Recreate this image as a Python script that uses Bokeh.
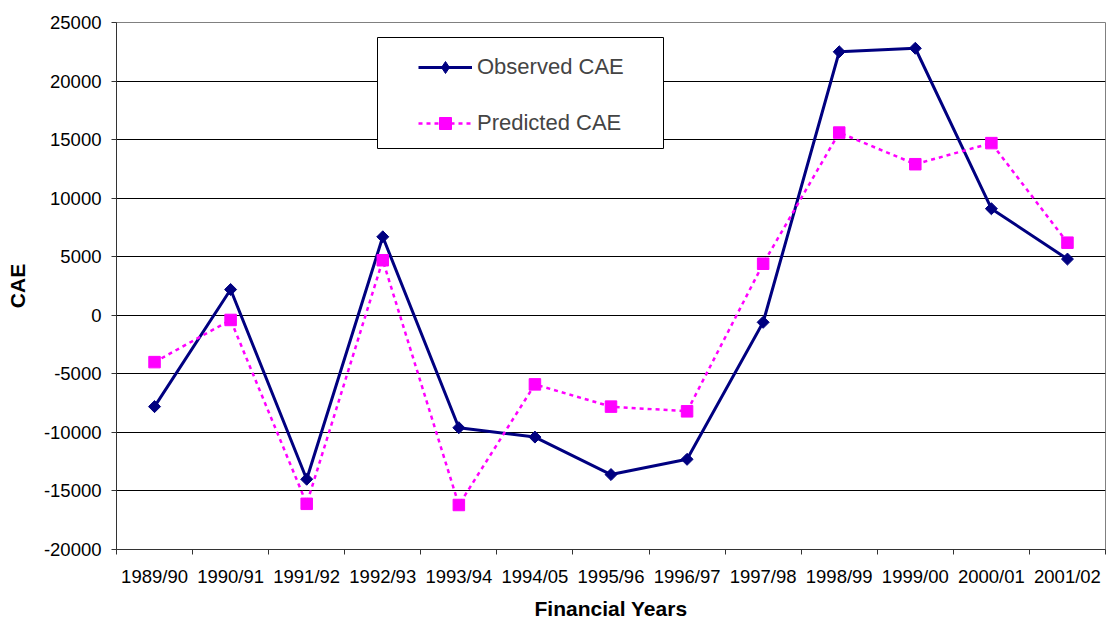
import math
from bokeh.plotting import figure
from bokeh.models import FixedTicker, Range1d, Legend, LegendItem, BoxAnnotation
from bokeh.embed import file_html
from bokeh.resources import INLINE

years = ["1989/90", "1990/91", "1991/92", "1992/93", "1993/94", "1994/05", "1995/96",
         "1996/97", "1997/98", "1998/99", "1999/00", "2000/01", "2001/02"]
observed = [-7800, 2200, -14000, 6700, -9600, -10400, -13600, -12300, -600, 22500, 22800, 9100, 4800]
predicted = [-4000, -400, -16100, 4700, -16200, -5900, -7800, -8200, 4400, 15600, 12900, 14700, 6200]
y_ticks = [-20000, -15000, -10000, -5000, 0, 5000, 10000, 15000, 20000, 25000]

n = len(years)
x = [i + 0.5 for i in range(n)]

FONT = "Liberation Sans"
W, H = 1106, 622
BL, BR, BT, BB = 116, 1, 22, 72

p = figure(width=W, height=H, output_backend="svg", toolbar_location=None,
           x_range=Range1d(0, n), y_range=Range1d(y_ticks[0], y_ticks[-1]),
           min_border_left=BL, min_border_right=BR, min_border_top=BT, min_border_bottom=BB,
           background_fill_color="white", border_fill_color="white")

p.outline_line_color = "#808080"
p.outline_line_width = 1

# x axis: labels at category centres, ticks at boundaries
xa = p.xaxis[0]
xa.ticker = FixedTicker(ticks=x, minor_ticks=list(range(n + 1)))
xa.major_label_overrides = {v: lab for v, lab in zip(x, years)}
xa.major_tick_line_color = None
xa.major_tick_out = 5
xa.major_tick_in = 0
xa.minor_tick_line_color = "#333333"
xa.minor_tick_out = 5
xa.minor_tick_in = 0
xa.axis_line_color = "#333333"
xa.major_label_text_font = FONT
xa.major_label_text_font_size = "18.5px"
xa.major_label_text_color = "black"
xa.major_label_standoff = 11
xa.axis_label = "Financial Years"
xa.axis_label_text_font = FONT
xa.axis_label_text_font_size = "21px"
xa.axis_label_text_font_style = "bold"
xa.axis_label_text_color = "black"
xa.axis_label_standoff = 7

ya = p.yaxis[0]
ya.ticker = FixedTicker(ticks=y_ticks)
ya.major_label_overrides = {v: str(v) for v in y_ticks}
ya.major_tick_out = 5
ya.major_tick_in = 0
ya.minor_tick_line_color = None
ya.major_tick_line_color = "#333333"
ya.axis_line_color = "#333333"
ya.major_label_text_font = FONT
ya.major_label_text_font_size = "18.5px"
ya.major_label_text_color = "black"
ya.major_label_standoff = 10
ya.axis_label = "CAE"
ya.axis_label_text_font = FONT
ya.axis_label_text_font_size = "21px"
ya.axis_label_text_font_style = "bold"
ya.axis_label_text_color = "black"
ya.axis_label_standoff = 12

p.xgrid.grid_line_color = None
p.ygrid.ticker = FixedTicker(ticks=y_ticks[1:-1])
p.ygrid.grid_line_color = "#000000"
p.ygrid.grid_line_width = 1

r1 = p.line(x, observed, line_color="#000080", line_width=3)
s1 = p.scatter(x, observed, marker="square", angle=math.pi / 4, size=8.5,
               fill_color="#000080", line_color="#000080")
r2 = p.line(x, predicted, line_color="#FF00FF", line_width=2.5, line_dash="4 4")
s2 = p.scatter(x, predicted, marker="square", size=11.5,
               fill_color="#FF00FF", line_color="#FF00FF")
# legend-only diamond marker (not drawn on the plot: NaN position)
d1 = p.scatter([float("nan")], [float("nan")], marker="diamond", size=12,
               fill_color="#000080", line_color="#000080")

box = BoxAnnotation(left=261, right=547, top=512, bottom=401,
                    left_units="screen", right_units="screen",
                    top_units="screen", bottom_units="screen",
                    fill_color="white", fill_alpha=1.0,
                    line_color="black", line_width=1, line_alpha=1.0)
p.add_layout(box)

leg1 = Legend(items=[LegendItem(label="Observed CAE", renderers=[r1, d1])],
              location=(302, 467), padding=0, margin=0, spacing=0,
              label_height=30, glyph_height=30, glyph_width=54, label_standoff=5,
              label_text_font=FONT, label_text_font_size="22px",
              background_fill_alpha=0, border_line_alpha=0)
leg2 = Legend(items=[LegendItem(label="Predicted CAE", renderers=[r2, s2])],
              location=(302, 411), padding=0, margin=0, spacing=0,
              label_height=30, glyph_height=30, glyph_width=54, label_standoff=5,
              label_text_font=FONT, label_text_font_size="22px",
              background_fill_alpha=0, border_line_alpha=0)
p.add_layout(leg1)
p.add_layout(leg2)

open("out.html", "w").write(file_html(p, INLINE))
